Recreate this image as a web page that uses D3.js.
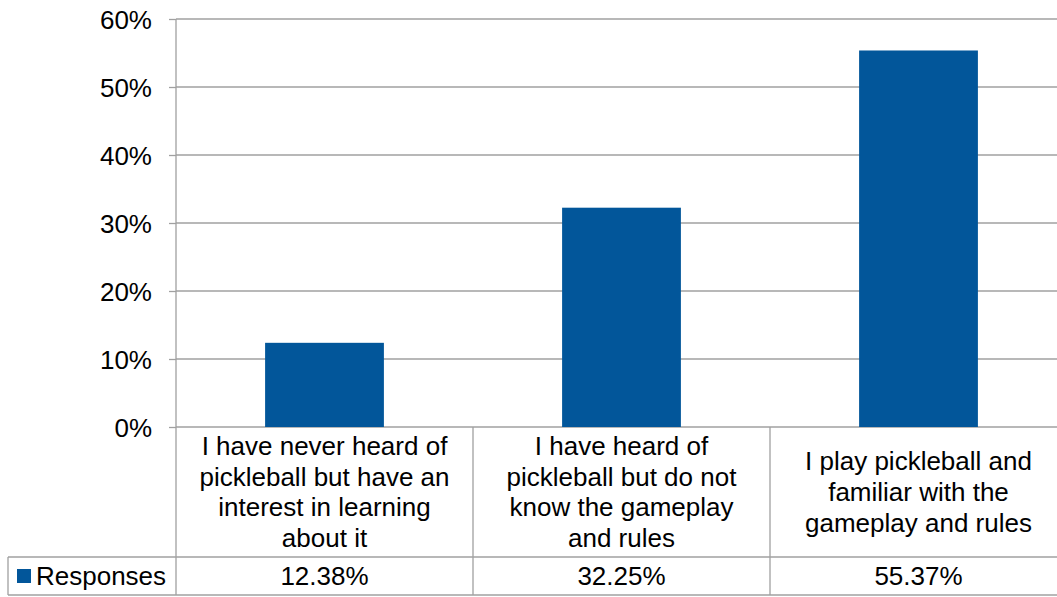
<!DOCTYPE html>
<html>
<head>
<meta charset="utf-8">
<script src="https://cdn.jsdelivr.net/npm/d3@7"></script>
<style>
html,body{margin:0;padding:0;background:#fff;}
svg{display:block;}
text{font-family:"Liberation Sans",Arial,sans-serif;fill:#000;}
</style>
</head>
<body>
<svg id="chart" width="1057" height="597"></svg>
<script>
const categories = [
  ["I have never heard of","pickleball but have an","interest in learning","about it"],
  ["I have heard of","pickleball but do not","know the gameplay","and rules"],
  ["I play pickleball and","familiar with the","gameplay and rules"]
];
const seriesName = "Responses";
const values = [12.38, 32.25, 55.37];
const valueLabels = ["12.38%", "32.25%", "55.37%"];
const yTicks = [0, 10, 20, 30, 40, 50, 60];

(function() {
const W = 1057, H = 597;
const plotLeft = 176, plotTop = 19, plotBottom = 427, step = 297;
const row1Bottom = 557, row2Bottom = 595, tableLeft = 8;
const fontSize = 26;
const gridColor = "#a0a0a0";
const barColor = "#02569a";

const svg = d3.select("#chart");
const ids = categories.map((c, i) => i);

const x = d3.scaleBand().domain(ids).range([plotLeft, plotLeft + step * ids.length]).paddingInner(0.6).paddingOuter(0.3);
const xCell = d3.scaleBand().domain(ids).range([plotLeft, plotLeft + step * ids.length]).padding(0);
const y = d3.scaleLinear().domain([0, 60]).range([plotBottom, plotTop]);

const yAxis = d3.axisLeft(y).tickValues(yTicks).tickFormat(d => d + "%").tickSize(7).tickPadding(17);
const gAxis = svg.append("g").attr("transform", `translate(${plotLeft},0)`).call(yAxis);
gAxis.select(".domain").remove();
gAxis.selectAll(".tick line").attr("stroke", gridColor).attr("stroke-width", 1.3);
gAxis.selectAll(".tick text").style("font-size", fontSize + "px").attr("fill", "#000").attr("dy", "0.35em");

svg.append("g").selectAll("line").data(yTicks).join("line")
  .attr("x1", plotLeft).attr("x2", W)
  .attr("y1", d => y(d)).attr("y2", d => y(d))
  .attr("stroke", gridColor).attr("stroke-width", 1.3);

svg.append("g").selectAll("rect").data(values).join("rect")
  .attr("x", (d, i) => x(i))
  .attr("width", x.bandwidth())
  .attr("y", d => y(d))
  .attr("height", d => y(0) - y(d))
  .attr("fill", barColor);

const tbl = svg.append("g").attr("stroke", gridColor).attr("stroke-width", 1.3);
tbl.append("line").attr("x1", plotLeft).attr("x2", plotLeft).attr("y1", plotTop).attr("y2", row2Bottom);
ids.forEach(i => {
  const xr = xCell(i) + xCell.bandwidth();
  if (xr < W) tbl.append("line").attr("x1", xr).attr("x2", xr).attr("y1", plotBottom).attr("y2", row2Bottom);
});
tbl.append("line").attr("x1", tableLeft).attr("x2", W).attr("y1", row1Bottom).attr("y2", row1Bottom);
tbl.append("line").attr("x1", tableLeft).attr("x2", W).attr("y1", row2Bottom).attr("y2", row2Bottom);
tbl.append("line").attr("x1", tableLeft).attr("x2", tableLeft).attr("y1", row1Bottom).attr("y2", row2Bottom);

const lineH = 30.7;
const cellMid = (plotBottom + row1Bottom) / 2;
svg.append("g").selectAll("text").data(categories).join("text")
  .attr("text-anchor", "middle")
  .style("font-size", fontSize + "px")
  .each(function(lines, i) {
    const t = d3.select(this);
    const cx = xCell(i) + xCell.bandwidth() / 2;
    const y0 = cellMid - (lines.length - 1) * lineH / 2;
    lines.forEach((ln, k) => {
      t.append("tspan").attr("x", cx).attr("y", y0 + k * lineH).attr("dy", "0.35em").text(ln);
    });
  });

const row2Mid = (row1Bottom + row2Bottom) / 2;
svg.append("g").selectAll("text").data(valueLabels).join("text")
  .attr("text-anchor", "middle")
  .attr("x", (d, i) => xCell(i) + xCell.bandwidth() / 2)
  .attr("y", row2Mid).attr("dy", "0.35em")
  .style("font-size", fontSize + "px")
  .text(d => d);

svg.append("rect").attr("x", 17).attr("y", 569).attr("width", 14).attr("height", 14).attr("fill", barColor);
svg.append("text").attr("x", 36).attr("y", row2Mid).attr("dy", "0.35em")
  .style("font-size", fontSize + "px").text(seriesName);
})();
</script>
</body>
</html>
